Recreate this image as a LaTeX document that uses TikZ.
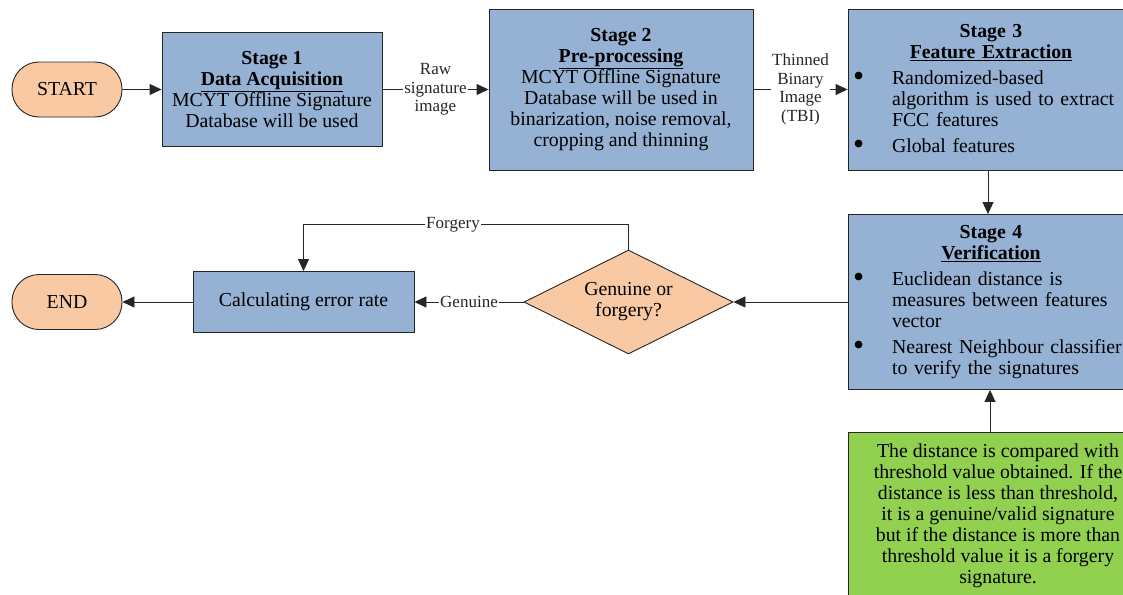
\documentclass[tikz,border=0pt]{standalone}
\usepackage{fontspec}
\setmainfont{LiberationSerif}[Extension=.ttf,UprightFont=*-Regular,BoldFont=*-Bold,
  ItalicFont=*-Italic,BoldItalicFont=*-BoldItalic]
\usetikzlibrary{arrows.meta,positioning,shapes.geometric}
\definecolor{stageblue}{HTML}{95B1D3}
\definecolor{termorange}{HTML}{F9C9A4}
\definecolor{notegreen}{HTML}{92D050}
\definecolor{edgegray}{HTML}{262626}
\newcommand{\stagehead}[2]{\centering{\bfseries #1\\ \underline{#2}}\par
  \leftskip=0pt \rightskip=0pt plus 1fil \parfillskip=0pt plus 1fil}
\newcommand{\bulitem}[1]{\par\vspace{5pt}\noindent\hangindent=39pt\hangafter=0
  \llap{\makebox[39pt][l]{\raisebox{-2.5pt}{\scalebox{1.6}{\textbullet}}}}#1}
\tikzset{
  stagebox/.style={draw=edgegray,line width=0.9pt,fill=stageblue,inner sep=0pt,
    font=\fontsize{19.8}{21}\selectfont},
  termbox/.style={draw=edgegray,line width=0.9pt,fill=termorange,rounded corners=27pt,
    minimum width=110pt,minimum height=55pt,font=\fontsize{19.8}{21}\selectfont},
  notebox/.style={draw=edgegray,line width=0.9pt,fill=notegreen,align=center,
    minimum width=300pt,minimum height=168pt,font=\fontsize{19.8}{21}\selectfont},
  decisionbox/.style={diamond,draw=edgegray,line width=0.9pt,fill=termorange,aspect=2,
    inner sep=0pt,minimum width=209pt,minimum height=104pt,align=center,
    font=\fontsize{19.8}{21}\selectfont},
  flow/.style={edgegray,line width=0.9pt,-{Triangle[length=12pt,width=11pt]}},
  edgelabel/.style={fill=white,inner sep=1pt,align=center,
    font=\fontsize{17}{18.5}\selectfont}
}
\begin{document}
\begin{tikzpicture}[x=1pt,y=-1pt]
  \useasboundingbox[fill=white] (0,0) rectangle (1123,594);
  % terminals
  \node[termbox] (start) at (67,89.5) {START};
  \node[termbox] (end) at (67,302) {END};
  % stages
  \node[stagebox,align=center,minimum width=220pt,minimum height=114pt] (s1) at (272,89.5)
    {\textbf{Stage 1}\\\textbf{\underline{Data Acquisition}}\\MCYT Offline Signature\\Database will be used};
  \node[stagebox,align=center,minimum width=264pt,minimum height=161pt] (s2) at (621,89.5)
    {\textbf{Stage 2}\\\textbf{\underline{Pre-processing}}\\MCYT Offline Signature\\Database will be used in\\binarization, noise removal,\\cropping and thinning};
  \node[stagebox,text width=276pt,inner xsep=5pt,minimum height=161pt] (s3) at (991,89.5)
    {\stagehead{Stage 3}{Feature Extraction}
     \bulitem{Randomized-based\newline algorithm is used to extract\newline FCC features}
     \bulitem{Global features}\par};
  \node[stagebox,text width=276pt,inner xsep=5pt,minimum height=175pt] (s4) at (991,302)
    {\stagehead{Stage 4}{Verification}
     \bulitem{Euclidean distance is\newline measures between features\newline vector}
     \bulitem{Nearest Neighbour classifier\newline to verify the signatures}\par};
  \node[notebox] (note) at (998,516)
    {The distance is compared with\\threshold value obtained. If the\\distance is less than threshold,\\it is a genuine/valid signature\\but if the distance is more than\\threshold value it is a forgery\\signature.};
  \node[decisionbox] (dia) at (628.5,302) {Genuine or\\forgery?};
  \node[stagebox,minimum width=221pt,minimum height=61pt] (calc) at (303.5,302) {Calculating error rate};
  \coordinate (fork) at ([yshift=25pt]dia.north);
  % connectors
  \draw[flow] (start) -- (s1);
  \draw[flow] (s1) -- node[edgelabel] {Raw\\signature\\image} (s2);
  \draw[flow] (s2) -- node[edgelabel] {Thinned\\Binary\\Image\\(TBI)} (s3);
  \draw[flow] ([xshift=-3pt]s3.south) -- ([xshift=-3pt]s4.north);
  \draw[flow] ([xshift=-1pt]note.north -| s4.south) -- ([xshift=-1pt]s4.south);
  \draw[flow] (s4) -- (dia);
  \draw[flow] (dia) -- node[edgelabel] {Genuine} (calc);
  \draw[flow] (dia.north) -- (fork) -| node[edgelabel,pos=0.27] {Forgery} (calc.north);
  \draw[flow] (calc) -- (end);
\end{tikzpicture}
\end{document}
